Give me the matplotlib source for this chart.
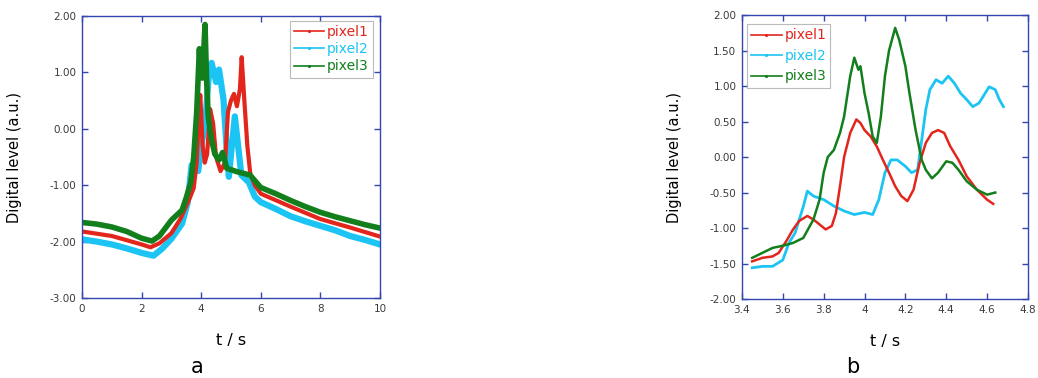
import matplotlib.pyplot as plt
from matplotlib.lines import Line2D
from matplotlib.ticker import MultipleLocator, FormatStrFormatter, FuncFormatter

RED = '#e2261c'
CYAN = '#1cc4f4'
GREEN = '#127f1c'
FRAME = '#3446b0'

# ---- panel a (full record, 0-10 s)
a_t1 = [0, 1, 2, 2.3, 2.6, 3.0, 3.3, 3.6, 3.75, 3.85, 3.92, 3.97, 4.05, 4.12, 4.2, 4.3, 4.4,
        4.5, 4.65, 4.8, 4.9, 5.0, 5.1, 5.2, 5.3, 5.36, 5.45, 5.55, 5.65, 5.8, 6, 7, 8, 9, 10]
a_p1 = [-1.82, -1.9, -2.05, -2.1, -2.03, -1.85, -1.6, -1.25, -1.05, -0.6, 0.2, 0.6, -0.3, -0.6,
        -0.45, 0.35, 0.1, -0.5, -0.75, -0.6, 0.3, 0.5, 0.62, 0.4, 0.7, 1.27, 0.5, -0.3, -0.8,
        -1.0, -1.15, -1.38, -1.6, -1.75, -1.91]

a_t2 = [0, 0.5, 1, 1.5, 2, 2.4, 2.7, 3.0, 3.36, 3.55, 3.68, 3.8, 3.9, 4.02, 4.12, 4.25, 4.35,
        4.5, 4.6, 4.75, 4.87, 4.93, 5.03, 5.13, 5.24, 5.35, 5.6, 5.8, 6, 6.5, 7, 7.5, 8, 8.5,
        9, 9.5, 10]
a_p2 = [-1.96, -2.0, -2.05, -2.12, -2.2, -2.25, -2.12, -1.95, -1.68, -1.3, -0.64, -0.7, -0.75,
        -0.23, 0.0, 0.9, 1.17, 0.83, 1.05, 0.52, -0.47, -0.85, -0.3, 0.22, -0.3, -0.82, -0.95,
        -1.2, -1.3, -1.42, -1.55, -1.64, -1.72, -1.8, -1.9, -1.97, -2.05]

a_t3 = [0, 0.5, 1, 1.5, 2, 2.35, 2.6, 3.0, 3.36, 3.5, 3.65, 3.75, 3.85, 3.94, 3.98, 4.04, 4.13,
        4.18, 4.24, 4.35, 4.46, 4.6, 4.72, 4.86, 5.2, 5.64, 6.0, 6.5, 7, 7.5, 8, 8.5, 9, 9.5, 10]
a_p3 = [-1.66, -1.69, -1.74, -1.82, -1.94, -1.99, -1.9, -1.62, -1.44, -1.22, -0.95, -0.5, 0.3,
        1.42, 0.95, 0.9, 1.85, 0.9, 0.2, -0.2, -0.45, -0.55, -0.42, -0.7, -0.76, -0.82, -1.04,
        -1.15, -1.27, -1.38, -1.48, -1.56, -1.63, -1.7, -1.76]

# ---- panel b (zoom on 3.45-4.68 s)
b_t1 = [3.45, 3.5, 3.55, 3.58, 3.62, 3.65, 3.68, 3.72, 3.75, 3.78, 3.81, 3.84, 3.86, 3.88, 3.9,
        3.93, 3.96, 3.98, 4.0, 4.03, 4.06, 4.09, 4.12, 4.15, 4.18, 4.21, 4.24, 4.27, 4.3, 4.33,
        4.36, 4.39, 4.42, 4.46, 4.5, 4.55, 4.6, 4.63]
b_p1 = [-1.47, -1.42, -1.4, -1.35, -1.17, -1.02, -0.9, -0.83, -0.88, -0.95, -1.02, -0.97, -0.79,
        -0.41, 0.0, 0.34, 0.53, 0.48, 0.38, 0.29, 0.15, -0.04, -0.22, -0.41, -0.55, -0.62, -0.46,
        -0.08, 0.2, 0.34, 0.38, 0.34, 0.15, -0.04, -0.27, -0.46, -0.6, -0.66]

b_t2 = [3.45, 3.5, 3.55, 3.6, 3.63, 3.66, 3.7, 3.72, 3.75, 3.8, 3.85, 3.9, 3.95, 4.0, 4.04, 4.07,
        4.1, 4.13, 4.16, 4.2, 4.23, 4.26, 4.28, 4.3, 4.32, 4.35, 4.38, 4.41, 4.44, 4.47, 4.5, 4.53,
        4.56, 4.58, 4.61, 4.64, 4.66, 4.68]
b_p2 = [-1.56, -1.54, -1.54, -1.45, -1.21, -1.07, -0.7, -0.48, -0.55, -0.6, -0.69, -0.76, -0.81,
        -0.78, -0.81, -0.6, -0.22, -0.04, -0.04, -0.13, -0.22, -0.18, 0.24, 0.67, 0.95, 1.09,
        1.04, 1.14, 1.04, 0.9, 0.81, 0.71, 0.76, 0.85, 0.99, 0.95, 0.81, 0.71]

b_t3 = [3.45, 3.5, 3.55, 3.6, 3.65, 3.7, 3.75, 3.78, 3.8, 3.82, 3.85, 3.88, 3.9, 3.93, 3.95, 3.97,
        3.98, 4.0, 4.02, 4.04, 4.06, 4.08, 4.1, 4.12, 4.15, 4.17, 4.2, 4.22, 4.25, 4.28, 4.3, 4.33,
        4.36, 4.4, 4.43, 4.46, 4.5, 4.55, 4.6, 4.64]
b_p3 = [-1.42, -1.35, -1.28, -1.25, -1.21, -1.14, -0.88, -0.6, -0.22, 0.0, 0.1, 0.34, 0.57, 1.14,
        1.4, 1.23, 1.28, 0.9, 0.62, 0.29, 0.2, 0.57, 1.14, 1.5, 1.82, 1.65, 1.28, 0.9, 0.38, -0.04,
        -0.18, -0.3, -0.22, -0.06, -0.08, -0.18, -0.34, -0.46, -0.53, -0.5]


def style_axes(ax):
  for s in ax.spines.values():
    s.set_color(FRAME)
    s.set_linewidth(1.0)
  ax.tick_params(direction='in', top=True, right=True, length=4, width=1, color=FRAME,
                 labelsize=7.5, labelcolor='#3a3a3a', pad=4)
  ax.set_xlabel('t / s', fontsize=11.5, labelpad=14)
  ax.set_ylabel('Digital level (a.u.)', fontsize=10.5, labelpad=20)


def add_legend(ax, anchor, loc, spacing):
  handles = [Line2D([], [], color=c, lw=1.2, marker='.', ms=2.5) for c in (RED, CYAN, GREEN)]
  leg = ax.legend(handles, ['pixel1', 'pixel2', 'pixel3'], loc=loc, bbox_to_anchor=anchor,
                  fontsize=10, frameon=True, fancybox=False, borderpad=0.3, labelspacing=spacing,
                  handlelength=2.2, handletextpad=0.2, borderaxespad=0)
  leg.get_frame().set_edgecolor('#aaaaaa')
  leg.get_frame().set_linewidth(0.8)
  for txt, c in zip(leg.get_texts(), (RED, CYAN, GREEN)):
    txt.set_color(c)


fig = plt.figure(figsize=(10.38, 3.78), dpi=100)

ax1 = fig.add_axes([0.079, 0.2116, 0.287, 0.746])
ax1.plot(a_t2, a_p2, color=CYAN, lw=4.5)
ax1.plot(a_t1, a_p1, color=RED, lw=3.0)
ax1.plot(a_t3, a_p3, color=GREEN, lw=4.0)
ax1.set_xlim(0, 10)
ax1.set_ylim(-3, 2)
ax1.xaxis.set_major_locator(MultipleLocator(2))
ax1.yaxis.set_major_locator(MultipleLocator(1))
ax1.yaxis.set_major_formatter(FormatStrFormatter('%.2f'))
style_axes(ax1)
add_legend(ax1, (0.977, 0.982), 'upper right', 0.22)
fig.text(0.19, 0.012, 'a', fontsize=15, ha='center')

ax2 = fig.add_axes([0.7148, 0.209, 0.2755, 0.751])
ax2.plot(b_t2, b_p2, color=CYAN, lw=2.0)
ax2.plot(b_t1, b_p1, color=RED, lw=1.8)
ax2.plot(b_t3, b_p3, color=GREEN, lw=1.8)
ax2.set_xlim(3.4, 4.8)
ax2.set_ylim(-2, 2)
ax2.xaxis.set_major_locator(MultipleLocator(0.2))
ax2.yaxis.set_major_locator(MultipleLocator(0.5))
ax2.xaxis.set_major_formatter(FuncFormatter(lambda v, p: '%g' % round(v, 2)))
ax2.yaxis.set_major_formatter(FormatStrFormatter('%.2f'))
style_axes(ax2)
add_legend(ax2, (0.017, 0.968), 'upper left', 0.47)
fig.text(0.822, 0.012, 'b', fontsize=15, ha='center')

fig.savefig('out.png', dpi=100)
